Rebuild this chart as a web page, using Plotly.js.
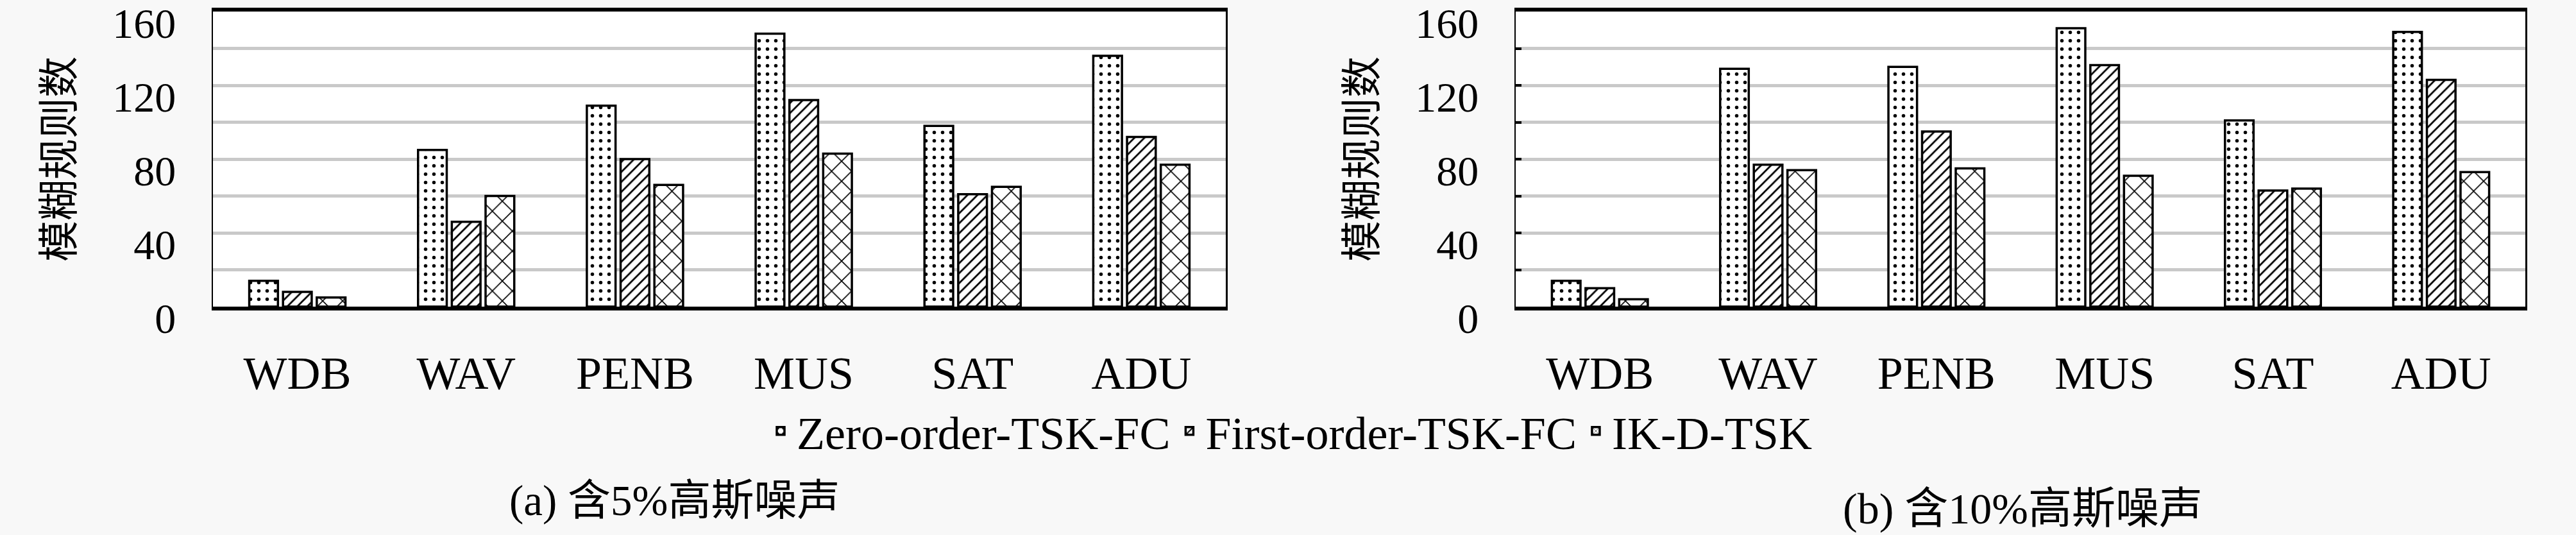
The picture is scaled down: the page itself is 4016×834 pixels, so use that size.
<!DOCTYPE html>
<html><head><meta charset="utf-8">
<script src="https://cdn.plot.ly/plotly-3.0.1.min.js"></script>
<style>html,body{margin:0;padding:0;background:#f8f8f8;}</style>
</head><body><div id="chart" style="width:4016px;height:834px;"></div>
<script>
const categories = ['WDB','WAV','PENB','MUS','SAT','ADU'];
const seriesNames = ['Zero-order-TSK-FC','First-order-TSK-FC','IK-D-TSK'];
// (a) 5% Gaussian noise
const a_zero  = [14, 85, 109, 148, 98, 136];
const a_first = [8, 46, 80, 112, 61, 92];
const a_ik    = [5, 60, 66, 83, 65, 77];
// (b) 10% Gaussian noise
const b_zero  = [14, 129, 130, 151, 101, 149];
const b_first = [10, 77, 95, 131, 63, 123];
const b_ik    = [4, 74, 75, 71, 64, 73];
const yTickVals = [0,20,40,60,80,100,120,140,160];
const yTickText = ['0','','40','','80','','120','','160'];
const leftTickMarks = [20,50,80,110,140];
const yTitle = '模糊规则数';
const captionA = '(a) 含5%高斯噪声';
const captionB = '(b) 含10%高斯噪声';

const FONT = "'Liberation Serif','Noto Sans CJK SC',serif";
const patterns = [
  {shape:'.', fgcolor:'#000', bgcolor:'#fff', size:13, solidity:0.14},
  {shape:'/', fgcolor:'#000', bgcolor:'#fff', size:11, solidity:0.25},
  {shape:'x', fgcolor:'#000', bgcolor:'#fff', size:22, solidity:0.14}
];
function bar(y, i, xa, ya, show){
  return {type:'bar', x:categories, y:y, name:seriesNames[i], xaxis:xa, yaxis:ya,
    legendgroup:'g'+i, showlegend:show,
    marker:{color:'#fff', pattern:patterns[i], line:{color:'#000', width:3.5}}};
}
const data = [
  bar(a_zero,0,'x','y',true), bar(a_first,1,'x','y',true), bar(a_ik,2,'x','y',true),
  bar(b_zero,0,'x2','y2',false), bar(b_first,1,'x2','y2',false), bar(b_ik,2,'x2','y2',false)
];
const W=4016, H=834;
function xax(d0,d1,anchor){
  return {domain:[d0/W,d1/W], anchor:anchor, type:'category', showline:true, linecolor:'#000',
    linewidth:6, mirror:true, ticks:'', showgrid:false, zeroline:false,
    tickfont:{family:FONT, size:72, color:'#000'}, ticklabelstandoff:36};
}
function yax(anchor, ticks){
  return {domain:[1-478/H, 1-18/H], anchor:anchor, range:[0,160], tickmode:'array',
    tickvals:yTickVals, ticktext:yTickText, showline:true, linecolor:'#000', linewidth:2.5,
    mirror:true, ticks:ticks, ticklen:9, tickwidth:4, tickcolor:'#000',
    showgrid:true, gridcolor:'#c9c9c9', gridwidth:5, zeroline:false,
    ticklabeloverflow:'allow', ticklabelshift:18,
    tickfont:{family:FONT, size:66, color:'#000'}, ticklabelstandoff:42,
    title:{text:yTitle, font:{family:FONT, size:64, color:'#000'}, standoff:40}};
}
const layout = {
  width:W, height:H, margin:{l:0,r:0,t:0,b:0},
  paper_bgcolor:'#f8f8f8', plot_bgcolor:'#fff',
  barmode:'group', bargap:0.4, bargroupgap:0.15,
  font:{family:FONT, color:'#000'},
  xaxis:xax(332,1911,'y'),
  yaxis:yax('x',''),
  xaxis2:xax(2363,3937,'y2'),
  yaxis2:yax('x2','inside'),
  yaxis3:{overlaying:'y', anchor:'x', range:[0,160], tickmode:'array', tickvals:leftTickMarks,
    ticks:'inside', ticklen:9, tickwidth:4, tickcolor:'#000', showticklabels:false,
    showgrid:false, showline:false, zeroline:false},
  legend:{orientation:'h', x:2011/W, xanchor:'center', y:1-672/H, yanchor:'middle',
    bgcolor:'rgba(0,0,0,0)', font:{family:FONT, size:72, color:'#000'}, itemwidth:40},
  annotations:[
    {text:captionA, xref:'paper', yref:'paper', x:1051/W, y:1-780/H, xanchor:'center', yanchor:'middle',
     showarrow:false, font:{family:FONT, size:67, color:'#000'}},
    {text:captionB, xref:'paper', yref:'paper', x:3153/W, y:1-793/H, xanchor:'center', yanchor:'middle',
     showarrow:false, font:{family:FONT, size:68, color:'#000'}}
  ]
};
Plotly.newPlot('chart', data, layout, {staticPlot:true});
</script></body></html>
